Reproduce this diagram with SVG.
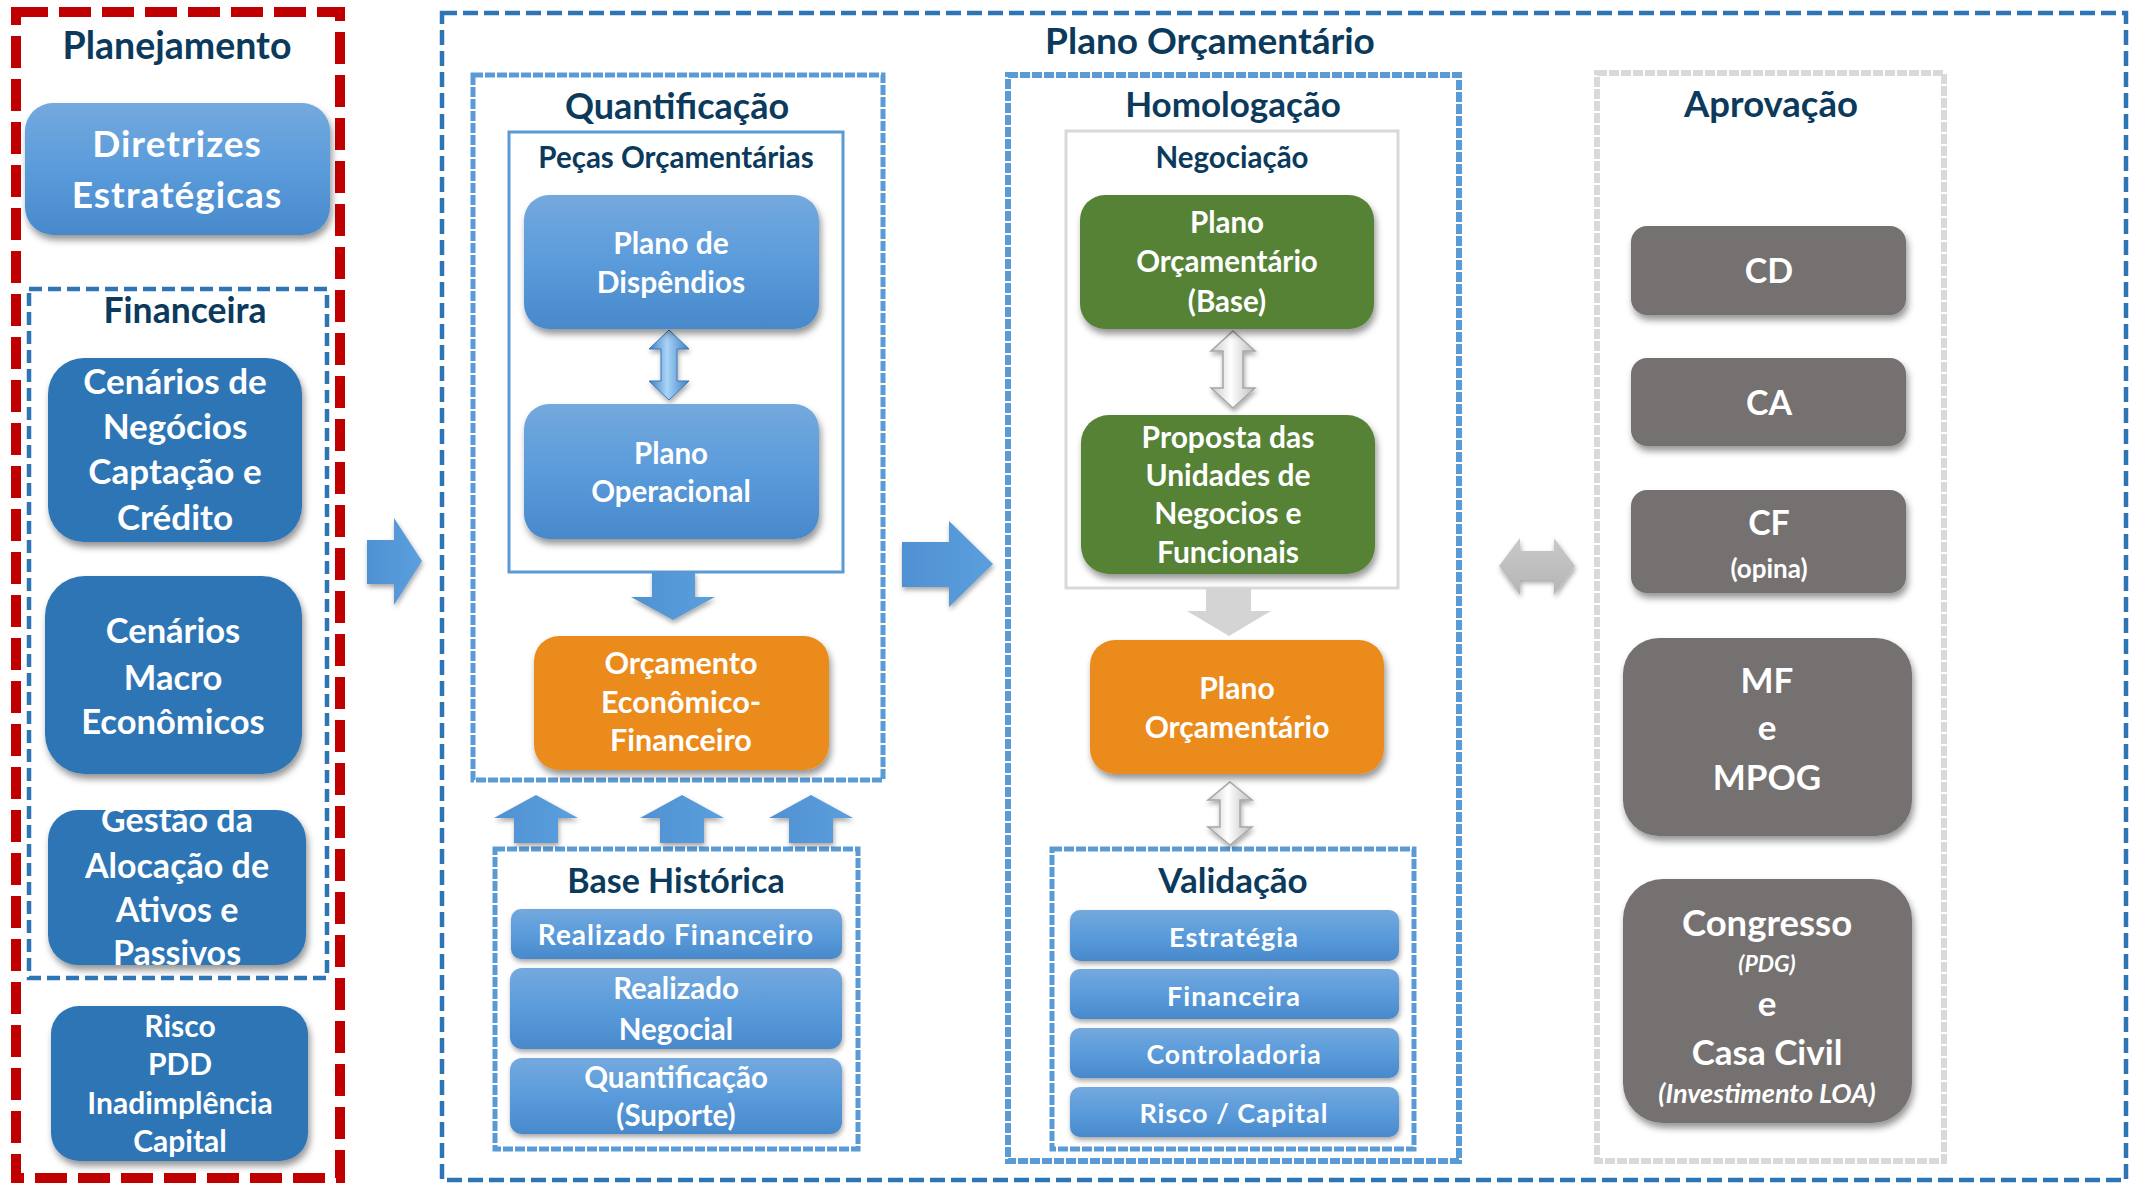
<svg xmlns="http://www.w3.org/2000/svg" width="2136" height="1183" viewBox="0 0 2136 1183">
<defs>
<linearGradient id="gBlue" x1="0" y1="0" x2="0" y2="1"><stop offset="0" stop-color="#74A9DD"/><stop offset="0.5" stop-color="#5A9BDB"/><stop offset="1" stop-color="#4889CB"/></linearGradient>
<linearGradient id="gArrow" x1="0" y1="0" x2="1" y2="0"><stop offset="0" stop-color="#4F91D2"/><stop offset="1" stop-color="#5C9FDD"/></linearGradient>
<linearGradient id="gDbl" x1="0" y1="0" x2="1" y2="0"><stop offset="0" stop-color="#3D7FC4"/><stop offset="0.45" stop-color="#A9D4F7"/><stop offset="1" stop-color="#3D7FC4"/></linearGradient>
<linearGradient id="gGrayDbl" x1="0" y1="0" x2="1" y2="0"><stop offset="0" stop-color="#C8C8C8"/><stop offset="0.45" stop-color="#FFFFFF"/><stop offset="1" stop-color="#BDBDBD"/></linearGradient>
<linearGradient id="gGrayH" x1="0" y1="0" x2="0" y2="1"><stop offset="0" stop-color="#C9C9C9"/><stop offset="1" stop-color="#B5B5B5"/></linearGradient>
<filter id="sh" x="-10%" y="-10%" width="125%" height="135%"><feDropShadow dx="2" dy="5" stdDeviation="3.5" flood-color="#000" flood-opacity="0.42"/></filter>
<filter id="shs" x="-10%" y="-10%" width="125%" height="135%"><feDropShadow dx="1" dy="3" stdDeviation="2.5" flood-color="#000" flood-opacity="0.35"/></filter>
</defs>
<style>
text{font-family:Lato,"Liberation Sans",sans-serif;font-weight:700;text-anchor:middle}
.t{fill:#0B3A5C}
.w{fill:#FFFFFF}
.g{letter-spacing:1px}
.it{font-style:italic;font-weight:700}
.lb{fill:url(#gBlue);filter:url(#sh)}
.db{fill:#2E74B5;filter:url(#sh)}
.or{fill:#EB8B1E;filter:url(#sh)}
.gr{fill:#548235;filter:url(#sh)}
.gy{fill:#767171;filter:url(#sh)}
.bar{fill:url(#gBlue);filter:url(#shs)}
.ctn{fill:none}
</style>
<rect x="0" y="0" width="2136" height="1183" fill="#FFFFFF"/>

<!-- containers -->
<g id="containers">
<rect id="planejamento-box" class="ctn" x="16" y="12" width="324" height="1166" stroke="#C00000" stroke-width="10" stroke-dasharray="32 11"/>
<rect id="financeira-box" class="ctn" x="29" y="289" width="298" height="689" stroke="#2E75B6" stroke-width="4.5" stroke-dasharray="13 6"/>
<rect id="plano-box" class="ctn" x="442" y="13" width="1684" height="1167" stroke="#2E75B6" stroke-width="4.5" stroke-dasharray="15 6"/>
<rect id="quant-box" class="ctn" x="473" y="75" width="410" height="705" stroke="#5B9BD5" stroke-width="5" stroke-dasharray="10 2"/>
<rect id="pecas-box" class="ctn" x="509" y="132" width="334" height="440" stroke="#5B9BD5" stroke-width="3"/>
<rect id="base-box" class="ctn" x="495" y="849" width="363" height="300" stroke="#5B9BD5" stroke-width="5" stroke-dasharray="10 2"/>
<rect id="homolog-box" class="ctn" x="1008" y="75" width="451" height="1086" stroke="#5B9BD5" stroke-width="6" stroke-dasharray="10 2"/>
<rect id="negoc-box" class="ctn" x="1066" y="131" width="332" height="457" stroke="#D9D9D9" stroke-width="3"/>
<rect id="valid-box" class="ctn" x="1052" y="849" width="362" height="300" stroke="#5B9BD5" stroke-width="5" stroke-dasharray="10 2"/>
<rect id="aprov-box" class="ctn" x="1597" y="73" width="347" height="1088" stroke="#D9D9D9" stroke-width="6" stroke-dasharray="10 2"/>
</g>

<!-- titles -->
<g id="titles" class="t">
<text class="t" x="177" y="59" font-size="37.5">Planejamento</text>
<text class="t" x="185" y="323" font-size="35.5">Financeira</text>
<text class="t" x="1210" y="54" font-size="37">Plano Orçamentário</text>
<text class="t" x="677" y="119" font-size="36">Quantificação</text>
<text class="t" x="676" y="168" font-size="29.5">Peças Orçamentárias</text>
<text class="t" x="1233" y="117" font-size="35">Homologação</text>
<text class="t" x="1232" y="168" font-size="29.5">Negociação</text>
<text class="t" x="1771" y="117" font-size="36.5">Aprovação</text>
<text class="t" x="676" y="893" font-size="34">Base Histórica</text>
<text class="t" x="1233" y="893" font-size="35">Validação</text>
</g>

<!-- connectors -->
<g id="connectors">
<polygon id="arr-plan-plano" points="367,540 394,540 394,518 422,561 394,605 394,584 367,584" fill="url(#gArrow)" filter="url(#shs)"/>
<polygon id="arr-quant-homolog" points="902,542 949,542 949,521 993,564 949,607 949,587 902,587" fill="url(#gArrow)" filter="url(#shs)"/>
<polygon id="arr-pecas-orc" points="652,572 695,572 695,597 715,597 673,620 631,597 652,597" fill="url(#gArrow)" filter="url(#shs)"/>
<polygon id="arr-up1" points="536,795 578,818 558,818 558,843 514,843 514,818 494,818" fill="url(#gArrow)" filter="url(#shs)"/>
<polygon id="arr-up2" points="682,795 724,818 704,818 704,843 660,843 660,818 640,818" fill="url(#gArrow)" filter="url(#shs)"/>
<polygon id="arr-up3" points="811,795 853,818 833,818 833,843 789,843 789,818 769,818" fill="url(#gArrow)" filter="url(#shs)"/>
<polygon id="arr-disp-oper" points="669,330 689,349 677,349 677,381 689,381 669,400 649,381 661,381 661,349 649,349" fill="url(#gDbl)" stroke="#3A78B8" stroke-width="1" filter="url(#shs)"/>
<polygon id="arr-base-proposta" points="1233,331 1255,351 1243,351 1243,388 1255,388 1233,408 1211,388 1223,388 1223,351 1211,351" fill="url(#gGrayDbl)" stroke="#A6A6A6" stroke-width="1.5" filter="url(#shs)"/>
<polygon id="arr-negoc-plano" points="1206,588 1251,588 1251,611 1271,611 1229,636 1187,611 1206,611" fill="#D4D4D4"/>
<polygon id="arr-plano-valid" points="1230,782 1252,800 1240,800 1240,827 1252,827 1230,845 1208,827 1220,827 1220,800 1208,800" fill="url(#gGrayDbl)" stroke="#A6A6A6" stroke-width="1.5" filter="url(#shs)"/>
<polygon id="arr-homolog-aprov" points="1499,566 1520,538 1520,551 1554,551 1554,538 1575,566 1554,595 1554,580 1520,580 1520,595" fill="url(#gGrayH)" filter="url(#shs)"/>
</g>

<!-- Planejamento nodes -->
<g id="diretrizes">
<rect class="lb" x="25" y="103" width="305" height="132" rx="28"/>
<text class="w g" x="177" y="157" font-size="37">Diretrizes</text>
<text class="w g" x="177" y="208" font-size="37">Estratégicas</text>
</g>
<g id="cenarios-negocios">
<rect class="db" x="48" y="358" width="254" height="184" rx="36"/>
<text class="w" x="175" y="394" font-size="35">Cenários de</text>
<text class="w" x="175" y="439" font-size="35">Negócios</text>
<text class="w" x="175" y="484" font-size="35">Captação e</text>
<text class="w" x="175" y="530" font-size="35">Crédito</text>
</g>
<g id="cenarios-macro">
<rect class="db" x="45" y="576" width="257" height="198" rx="40"/>
<text class="w" x="173" y="643" font-size="34.5">Cenários</text>
<text class="w" x="173" y="690" font-size="34.5">Macro</text>
<text class="w" x="173" y="734" font-size="34.5">Econômicos</text>
</g>
<g id="gestao-alocacao">
<rect class="db" x="48" y="810" width="258" height="155" rx="30"/>
<text class="w" x="177" y="832" font-size="34">Gestão da</text>
<text class="w" x="177" y="878" font-size="34">Alocação de</text>
<text class="w" x="177" y="922" font-size="34">Ativos e</text>
<text class="w" x="177" y="965" font-size="34">Passivos</text>
</g>
<g id="risco">
<rect class="db" x="51" y="1006" width="257" height="155" rx="28"/>
<text class="w" x="180" y="1037" font-size="30">Risco</text>
<text class="w" x="180" y="1075" font-size="30">PDD</text>
<text class="w" x="180" y="1114" font-size="30">Inadimplência</text>
<text class="w" x="180" y="1152" font-size="30">Capital</text>
</g>

<!-- Quantificação nodes -->
<g id="plano-dispendios">
<rect class="lb" x="524" y="195" width="295" height="134" rx="25"/>
<text class="w" x="671" y="254" font-size="30">Plano de</text>
<text class="w" x="671" y="293" font-size="30">Dispêndios</text>
</g>
<g id="plano-operacional">
<rect class="lb" x="524" y="404" width="295" height="135" rx="25"/>
<text class="w" x="671" y="464" font-size="29.5">Plano</text>
<text class="w" x="671" y="502" font-size="29.5">Operacional</text>
</g>
<g id="orcamento-ef">
<rect class="or" x="534" y="636" width="295" height="134" rx="25"/>
<text class="w" x="681" y="674" font-size="30.5">Orçamento</text>
<text class="w" x="681" y="713" font-size="30.5">Econômico-</text>
<text class="w" x="681" y="751" font-size="30.5">Financeiro</text>
</g>
<g id="realizado-financeiro">
<rect class="bar" x="511" y="909" width="331" height="50" rx="10"/>
<text class="w g" x="676" y="945" font-size="28">Realizado Financeiro</text>
</g>
<g id="realizado-negocial">
<rect class="bar" x="510" y="968" width="332" height="81" rx="12"/>
<text class="w" x="676" y="999" font-size="29.5">Realizado</text>
<text class="w" x="676" y="1040" font-size="29.5">Negocial</text>
</g>
<g id="quantificacao-suporte">
<rect class="bar" x="510" y="1058" width="332" height="76" rx="12"/>
<text class="w" x="676" y="1088" font-size="29.5">Quantificação</text>
<text class="w" x="676" y="1126" font-size="29.5">(Suporte)</text>
</g>

<!-- Homologação nodes -->
<g id="plano-base">
<rect class="gr" x="1080" y="195" width="294" height="134" rx="25"/>
<text class="w" x="1227" y="233" font-size="29.5">Plano</text>
<text class="w" x="1227" y="272" font-size="29.5">Orçamentário</text>
<text class="w" x="1227" y="312" font-size="29.5">(Base)</text>
</g>
<g id="proposta">
<rect class="gr" x="1081" y="415" width="294" height="159" rx="28"/>
<text class="w" x="1228" y="448" font-size="30">Proposta das</text>
<text class="w" x="1228" y="486" font-size="30">Unidades de</text>
<text class="w" x="1228" y="524" font-size="30">Negocios e</text>
<text class="w" x="1228" y="563" font-size="30">Funcionais</text>
</g>
<g id="plano-orcamentario">
<rect class="or" x="1090" y="640" width="294" height="134" rx="25"/>
<text class="w" x="1237" y="699" font-size="30">Plano</text>
<text class="w" x="1237" y="738" font-size="30">Orçamentário</text>
</g>
<g id="estrategia">
<rect class="bar" x="1070" y="910" width="329" height="51" rx="10"/>
<text class="w g" x="1234" y="947" font-size="27">Estratégia</text>
</g>
<g id="financeira-val">
<rect class="bar" x="1070" y="969" width="329" height="50" rx="10"/>
<text class="w g" x="1234" y="1006" font-size="27">Financeira</text>
</g>
<g id="controladoria">
<rect class="bar" x="1070" y="1028" width="329" height="50" rx="10"/>
<text class="w g" x="1234" y="1064" font-size="26.5">Controladoria</text>
</g>
<g id="risco-capital">
<rect class="bar" x="1070" y="1087" width="329" height="50" rx="10"/>
<text class="w g" x="1234" y="1123" font-size="27">Risco / Capital</text>
</g>

<!-- Aprovação nodes -->
<g id="cd">
<rect class="gy" x="1631" y="226" width="275" height="89" rx="16"/>
<text class="w" x="1769" y="283" font-size="34">CD</text>
</g>
<g id="ca">
<rect class="gy" x="1631" y="358" width="275" height="88" rx="16"/>
<text class="w" x="1769" y="415" font-size="34">CA</text>
</g>
<g id="cf">
<rect class="gy" x="1631" y="490" width="275" height="103" rx="16"/>
<text class="w" x="1769" y="535" font-size="34">CF</text>
<text class="w" x="1769" y="578" font-size="26">(opina)</text>
</g>
<g id="mf-mpog">
<rect class="gy" x="1623" y="638" width="289" height="198" rx="36"/>
<text class="w" x="1767" y="693" font-size="35">MF</text>
<text class="w" x="1767" y="740" font-size="35">e</text>
<text class="w" x="1767" y="790" font-size="35">MPOG</text>
</g>
<g id="congresso">
<rect class="gy" x="1623" y="879" width="289" height="244" rx="40"/>
<text class="w" x="1767" y="936" font-size="36.5">Congresso</text>
<text class="w it" x="1767" y="972" font-size="23">(PDG)</text>
<text class="w" x="1767" y="1016" font-size="35">e</text>
<text class="w" x="1767" y="1065" font-size="35">Casa Civil</text>
<text class="w it" x="1767" y="1103" font-size="27">(Investimento LOA)</text>
</g>
</svg>
